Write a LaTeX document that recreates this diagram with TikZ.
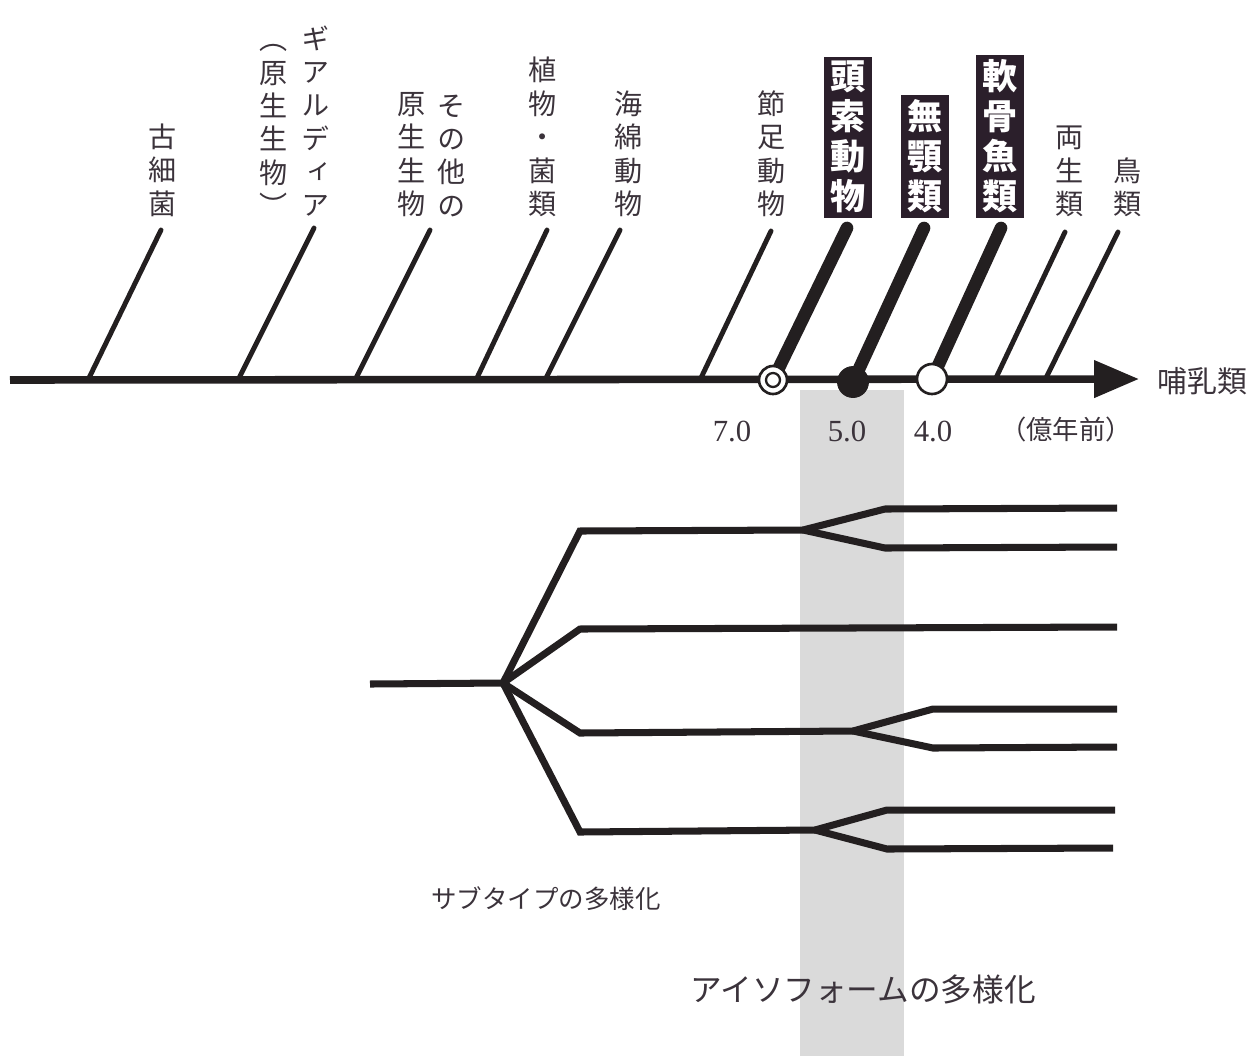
\documentclass[tikz,border=0pt]{standalone}
\usepackage{fontspec}
\setmainfont{Liberation Serif}
\newfontfamily\jp{Noto Sans CJK JP}
\newfontfamily\jpv[RawFeature=+vert]{Noto Sans CJK JP}
\usetikzlibrary{arrows.meta}
\definecolor{ink}{HTML}{231F20}
\definecolor{txt}{HTML}{3B333B}
\definecolor{boxc}{HTML}{2B1F2B}
\definecolor{bandc}{HTML}{DADADA}
\begin{document}
\begin{tikzpicture}[x=0.02cm,y=-0.02cm,
  vlab/.style={font=\jpv\fontsize{16}{19}\selectfont, align=center, inner sep=0pt, text=txt, anchor=south},
  blab/.style={font=\jpv\bfseries\fontsize{20}{22.8}\selectfont, align=center, inner xsep=3.4pt, inner ysep=2.5pt, fill=boxc, text=white, anchor=south},
  slant/.style={draw=ink, line width=2.8pt, line cap=round},
  slantthick/.style={draw=ink, line width=7.2pt, line cap=round},
  axisline/.style={draw=ink, line width=4.3pt, -{Triangle[length=0.9cm,width=0.72cm]}},
  branch/.style={draw=ink, line width=4pt},
  numlab/.style={font=\fontsize{17.5}{19}\selectfont, text=txt, inner sep=0pt},
  htext/.style={text=txt, inner sep=0pt},
  dot/.style={circle, inner sep=0pt, draw=ink}
]
\useasboundingbox (0,0) rectangle (1254,1056);
% gray band
\fill[bandc] (800,390) rectangle (904,1056);

% axis
\coordinate (ax0) at (10,380);
\coordinate (axtip) at (1139,379);
\draw[axisline] (ax0) -- (axtip);
\node[htext, font=\jp\fontsize{17}{19}\selectfont, anchor=west] (mam) at (1157,381) {哺乳類};

% slanted branch coordinates
\coordinate (b1) at (88,380);   \coordinate (t1) at (161,230);
\coordinate (b2) at (238,380);  \coordinate (t2) at (314,228);
\coordinate (b3) at (355,380);  \coordinate (t3) at (430,230);
\coordinate (b4) at (476,380);  \coordinate (t4) at (547,230);
\coordinate (b5) at (545,380);  \coordinate (t5) at (620,230);
\coordinate (b6) at (700,380);  \coordinate (t6) at (771,231);
\coordinate (b7) at (773,380);  \coordinate (t7) at (847,228);
\coordinate (b8) at (853,382);  \coordinate (t8) at (924,228);
\coordinate (b9) at (932,379);  \coordinate (t9) at (1001,228);
\coordinate (b10) at (995,380); \coordinate (t10) at (1065,232);
\coordinate (b11) at (1045,380);\coordinate (t11) at (1118,232);

\foreach \i in {1,2,3,4,5,6,10,11} \draw[slant] (b\i) -- (t\i);
\foreach \i in {7,8,9} \draw[slantthick] (b\i) -- (t\i);

% markers on axis
\node[dot, fill=white, line width=1.5pt, minimum size=0.56cm] (c1) at (b7) {};
\node[dot, line width=1.3pt, minimum size=0.28cm] (c1in) at (c1) {};
\node[dot, fill=ink, line width=0.5pt, minimum size=0.62cm] (c2) at (b8) {};
\node[dot, fill=white, line width=1.5pt, minimum size=0.6cm] (c3) at (b9) {};

% time labels
\node[numlab] (n7) at (732,431) {7.0};
\node[numlab] (n5) at (847,431) {5.0};
\node[numlab] (n4) at (933,431) {4.0};
\node[htext, font=\jp\fontsize{15}{17}\selectfont] (unit) at (1066,429) {（億年前）};

% vertical labels
\node[vlab] (l1) at (163,217) {古\\細\\菌};
\node[vlab] (l2a) at (316,217) {ギ\\ア\\ル\\デ\\ィ\\ア};
\node[vlab] (l2b) at (274,217) {︵\\原\\生\\生\\物\\︶};
\node[vlab] (l3a) at (452,217) {そ\\の\\他\\の};
\node[vlab] (l3b) at (412,217) {原\\生\\生\\物};
\node[vlab] (l4) at (543,217) {植\\物\\・\\菌\\類};
\node[vlab] (l5) at (629,217) {海\\綿\\動\\物};
\node[vlab] (l6) at (772,217) {節\\足\\動\\物};
\node[blab] (l7) at (848,218) {頭\\索\\動\\物};
\node[blab] (l8) at (925,218) {無\\顎\\類};
\node[blab] (l9) at (1000,218) {軟\\骨\\魚\\類};
\node[vlab] (l10) at (1070,217) {両\\生\\類};
\node[vlab] (l11) at (1128,217) {鳥\\類};

% lower tree
\coordinate (r0) at (370,684);
\coordinate (r1) at (503,683);
\coordinate (k1) at (580,531);
\coordinate (k2) at (580,629);
\coordinate (k3) at (580,733);
\coordinate (k4) at (580,832);
\coordinate (f1) at (803,530);
\coordinate (f3) at (853,731);
\coordinate (f4) at (815,830);
\coordinate (u1) at (885,509); \coordinate (e1u) at (1117,508);
\coordinate (d1) at (885,548); \coordinate (e1d) at (1117,547);
\coordinate (e2) at (1117,627);
\coordinate (u3) at (933,709); \coordinate (e3u) at (1117,709);
\coordinate (d3) at (933,748); \coordinate (e3d) at (1117,747);
\coordinate (u4) at (887,810); \coordinate (e4u) at (1115,810);
\coordinate (d4) at (887,849); \coordinate (e4d) at (1113,848);

\draw[branch] (r0) -- (r1);
\draw[branch] (r1) -- (k1) -- (f1);
\draw[branch] (f1) -- (u1) -- (e1u);
\draw[branch] (f1) -- (d1) -- (e1d);
\draw[branch] (r1) -- (k2) -- (e2);
\draw[branch] (r1) -- (k3) -- (f3);
\draw[branch] (f3) -- (u3) -- (e3u);
\draw[branch] (f3) -- (d3) -- (e3d);
\draw[branch] (r1) -- (k4) -- (f4);
\draw[branch] (f4) -- (u4) -- (e4u);
\draw[branch] (f4) -- (d4) -- (e4d);

% captions
\node[htext, font=\jp\fontsize{14.5}{16}\selectfont] (cap1) at (546,899) {サブタイプの多様化};
\node[htext, font=\jp\fontsize{18}{20}\selectfont] (cap2) at (863,989) {アイソフォームの多様化};
\end{tikzpicture}
\end{document}
